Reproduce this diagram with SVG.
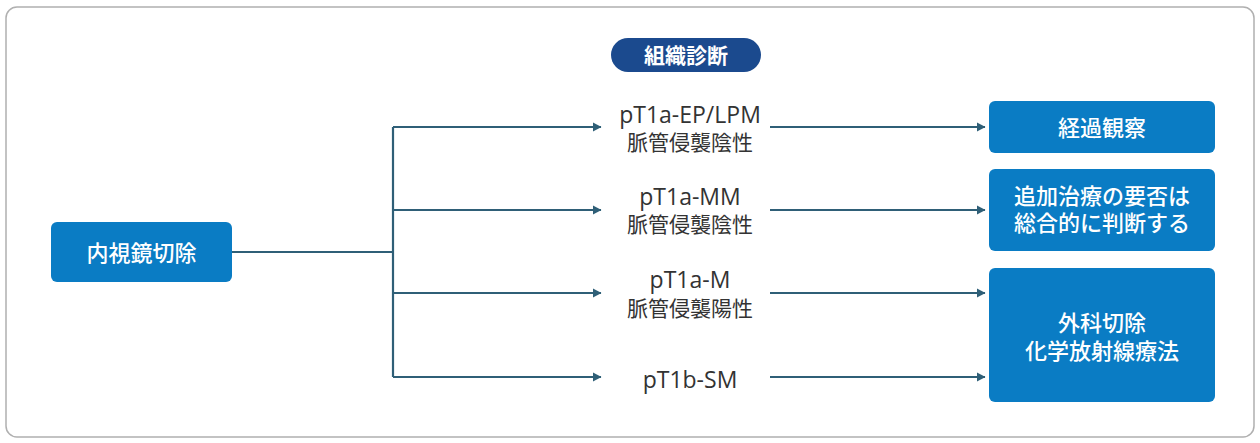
<svg xmlns="http://www.w3.org/2000/svg" width="1260" height="443" viewBox="0 0 1260 443">
<style>
.box{fill:#0a7cc4}
.bt{fill:#fff;font-family:"Noto Sans CJK JP","Noto Sans",sans-serif;font-size:22px;font-weight:500;text-anchor:middle}
.lbl{fill:#333;text-anchor:middle}
.en{font-family:"Open Sans","Noto Sans CJK JP",sans-serif;font-size:23px}
.jp{font-family:"Noto Sans CJK JP",sans-serif;font-size:21px;font-weight:400}
.c{stroke:#2f5f77;stroke-width:2.2;fill:none}
</style>
<defs>
<marker id="ah" markerWidth="10" markerHeight="10" refX="8" refY="5" orient="auto" markerUnits="userSpaceOnUse">
<path d="M0,0.5 L8.5,5 L0,9.5 Z" fill="#2f5f77"/>
</marker>
</defs>
<rect x="6" y="7" width="1248" height="430" rx="11" fill="#fff" stroke="#b0b0b0" stroke-width="1.5"/>
<g id="connectors">
<path class="c" d="M232,252 H393"/>
<path class="c" d="M393,127 V377"/>
<path class="c" d="M393,127 H601" marker-end="url(#ah)"/>
<path class="c" d="M393,210 H601" marker-end="url(#ah)"/>
<path class="c" d="M393,293 H601" marker-end="url(#ah)"/>
<path class="c" d="M393,377 H601" marker-end="url(#ah)"/>
<path class="c" d="M770,127 H985" marker-end="url(#ah)"/>
<path class="c" d="M770,210 H985" marker-end="url(#ah)"/>
<path class="c" d="M770,293 H985" marker-end="url(#ah)"/>
<path class="c" d="M770,377 H985" marker-end="url(#ah)"/>
</g>
<g id="n-soshiki">
<rect x="611" y="38" width="150" height="34" rx="17" fill="#1b4a8e"/>
<text class="bt" x="686" y="63" style="font-size:21px;font-weight:700">組織診断</text>
</g>
<g id="n-naishikyo">
<rect class="box" x="51" y="222" width="181" height="60" rx="6"/>
<text class="bt" x="141.5" y="261">内視鏡切除</text>
</g>
<g id="n-ep">
<text class="lbl en" x="690" y="123">pT1a-EP/LPM</text>
<text class="lbl jp" x="690" y="150">脈管侵襲陰性</text>
</g>
<g id="n-mm">
<text class="lbl en" x="690" y="205">pT1a-MM</text>
<text class="lbl jp" x="690" y="232">脈管侵襲陰性</text>
</g>
<g id="n-m">
<text class="lbl en" x="690" y="288">pT1a-M</text>
<text class="lbl jp" x="690" y="316">脈管侵襲陽性</text>
</g>
<g id="n-sm">
<text class="lbl en" x="690" y="388">pT1b-SM</text>
</g>
<g id="n-keika">
<rect class="box" x="989" y="101" width="226" height="52" rx="6"/>
<text class="bt" x="1102" y="136">経過観察</text>
</g>
<g id="n-tsuika">
<rect class="box" x="989" y="169" width="226" height="82" rx="6"/>
<text class="bt" x="1102" y="204">追加治療の要否は</text>
<text class="bt" x="1102" y="231">総合的に判断する</text>
</g>
<g id="n-geka">
<rect class="box" x="989" y="268" width="226" height="134" rx="6"/>
<text class="bt" x="1102" y="331">外科切除</text>
<text class="bt" x="1102" y="359">化学放射線療法</text>
</g>
</svg>
